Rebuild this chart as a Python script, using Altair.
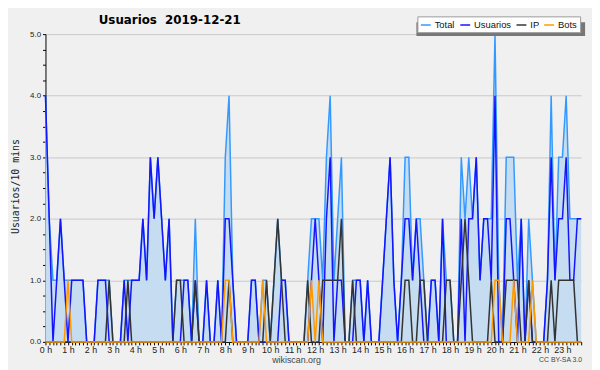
import altair as alt
import pandas as pd

# 10-minute bins, 6 per hour, one row per hour
total = [
    4, 2, 1, 1, 2, 1,   1, 1, 1, 1, 1, 0,   0, 0, 1, 1, 1, 1,   0, 0, 0, 1, 1, 1,
    1, 1, 2, 1, 3, 2,   3, 2, 1, 2, 0, 1,   1, 1, 1, 0, 2, 0,   0, 1, 0, 0, 1, 0,
    3, 4, 1, 0, 0, 0,   0, 1, 1, 0, 1, 1,   0, 1, 2, 1, 1, 0,   0, 0, 0, 0, 1, 2,
    2, 2, 1, 3, 4, 1,   2, 3, 0, 0, 1, 1,   1, 0, 1, 0, 0, 0,   1, 2, 3, 1, 0, 1,
    3, 3, 1, 2, 2, 1,   0, 1, 1, 0, 2, 1,   1, 0, 0, 3, 2, 3,   2, 3, 1, 2, 2, 2,
    5, 1, 0, 3, 3, 3,   1, 2, 0, 2, 1, 0,   0, 0, 1, 4, 1, 3,   3, 4, 2, 2, 2, 2,
]
usuarios = [
    4, 2, 0, 1, 2, 1,   0, 1, 1, 1, 1, 0,   0, 0, 1, 1, 1, 0,   0, 0, 0, 1, 0, 1,
    1, 1, 2, 1, 3, 2,   3, 2, 1, 2, 0, 0,   0, 1, 1, 0, 1, 0,   0, 1, 0, 0, 1, 0,
    2, 2, 1, 0, 0, 0,   0, 1, 1, 0, 0, 0,   0, 0, 0, 1, 1, 0,   0, 0, 0, 0, 0, 1,
    2, 1, 0, 2, 3, 0,   1, 1, 0, 0, 0, 1,   1, 0, 1, 0, 0, 0,   1, 2, 3, 1, 0, 1,
    2, 2, 1, 2, 1, 0,   0, 1, 1, 0, 2, 0,   0, 0, 0, 2, 0, 2,   2, 3, 1, 2, 2, 1,
    4, 0, 0, 2, 2, 1,   0, 2, 0, 1, 0, 0,   0, 0, 1, 3, 1, 2,   2, 3, 1, 1, 2, 2,
]
ip = [
    0, 0, 0, 0, 0, 0,   0, 0, 0, 0, 0, 0,   0, 0, 0, 0, 0, 1,   0, 0, 0, 0, 1, 0,
    0, 0, 0, 0, 0, 0,   0, 0, 0, 0, 0, 1,   1, 0, 0, 0, 1, 0,   0, 0, 0, 0, 0, 0,
    0, 1, 0, 0, 0, 0,   0, 0, 0, 0, 0, 1,   0, 1, 2, 1, 0, 0,   0, 0, 0, 0, 1, 0,
    0, 0, 1, 1, 1, 1,   1, 2, 0, 0, 1, 0,   0, 0, 0, 0, 0, 0,   0, 0, 0, 0, 0, 0,
    1, 1, 0, 0, 1, 1,   0, 0, 0, 0, 0, 1,   1, 0, 0, 1, 2, 1,   0, 0, 0, 0, 0, 1,
    0, 0, 0, 1, 1, 1,   1, 0, 0, 1, 0, 0,   0, 0, 0, 1, 0, 1,   1, 1, 1, 1, 0, 0,
]
bots = [
    0, 0, 0, 0, 0, 0,   1, 0, 0, 0, 0, 0,   0, 0, 0, 0, 0, 0,   0, 0, 0, 0, 0, 0,
    0, 0, 0, 0, 0, 0,   0, 0, 0, 0, 0, 0,   0, 0, 0, 0, 0, 0,   0, 0, 0, 0, 0, 0,
    1, 1, 0, 0, 0, 0,   0, 0, 0, 0, 1, 0,   0, 0, 0, 0, 0, 0,   0, 0, 0, 0, 0, 1,
    0, 1, 0, 0, 0, 0,   0, 0, 0, 0, 0, 0,   0, 0, 0, 0, 0, 0,   0, 0, 0, 0, 0, 0,
    0, 0, 0, 0, 0, 0,   0, 0, 0, 0, 0, 0,   0, 0, 0, 0, 0, 0,   0, 0, 0, 0, 0, 0,
    1, 1, 0, 0, 0, 1,   0, 0, 0, 0, 1, 0,   0, 0, 0, 0, 0, 0,   0, 0, 0, 0, 0, 0,
]

series_names = ["Total", "Usuarios", "IP", "Bots"]
series_colors = ["#3399ff", "#1414ff", "#333333", "#ff9900"]
fill_color = "#c6dcf0"
title_text = "Usuarios\u00a0\u00a02019-12-21"
y_title = "Usuarios/10 mins"
footer_left = "wikiscan.org"
footer_right = "CC BY-SA 3.0"

minutes = [i * 10 for i in range(len(total))]
rows = []
for name, vals in zip(series_names, [total, usuarios, ip, bots]):
    for m, v in zip(minutes, vals):
        rows.append({"serie": name, "min": m, "value": v})
df = pd.DataFrame(rows)
df_total = pd.DataFrame({"min": minutes, "value": total})

x_enc = alt.X(
    "min:Q",
    scale=alt.Scale(domain=[0, minutes[-1]], nice=False, zero=False),
    axis=alt.Axis(
        values=minutes,
        labelExpr="datum.value % 60 === 0 ? (datum.value / 60) + ' h' : ''",
        labelOverlap=False,
        labelFlush=False,
        labelFont="Liberation Sans",
        labelFontSize=9,
        labelColor="#222",
        labelPadding=1,
        tickSize=3,
        tickColor="black",
        domainColor="black",
        grid=False,
        title=footer_left,
        titleFont="Liberation Sans",
        titleFontSize=9,
        titleFontWeight="normal",
        titleColor="#444",
        titleX=254,
        titleY=21,
        titleAlign="center",
        titleBaseline="alphabetic",
    ),
)
y_vals = [i * 0.25 for i in range(21)]
y_enc = alt.Y(
    "value:Q",
    scale=alt.Scale(domain=[0, 5], nice=False),
    axis=alt.Axis(
        values=y_vals,
        labelExpr="datum.value % 1 === 0 ? format(datum.value, '.1f') : ''",
        labelOverlap=False,
        labelFont="Liberation Sans",
        labelFontSize=8,
        labelColor="#222",
        labelPadding=2,
        tickSize=3,
        tickColor="black",
        domainColor="black",
        grid=True,
        gridColor="#c8c8c8",
        gridOpacity={"condition": {"test": "datum.value % 1 !== 0", "value": 0}, "value": 1},
        title=y_title,
        titleFont="DejaVu Sans Mono",
        titleFontSize=10,
        titleFontWeight="normal",
        titleColor="#222",
        titleAngle=-90,
        titleX=-30,
        titleY=154,
        titleAlign="center",
        titleBaseline="middle",
    ),
)

legend = alt.Legend(
    title=None,
    orient="none",
    legendX=377,
    legendY=-18,
    direction="horizontal",
    columns=4,
    symbolType="stroke",
    symbolSize=100,
    symbolStrokeWidth=1.5,
    labelFont="Liberation Sans",
    labelFontSize=9.5,
    labelColor="#111",
    labelOffset=3,
    columnPadding=2,
    padding=2.5,
    fillColor="white",
    strokeColor="#999999",
)
color_enc = alt.Color(
    "serie:N",
    scale=alt.Scale(domain=series_names, range=series_colors),
    legend=legend,
)

shadow = alt.Chart(pd.DataFrame({"a": [0]})).mark_rect(color="#777777").encode(
    x=alt.value(376), x2=alt.value(547), y=alt.value(-12), y2=alt.value(2)
)

area = alt.Chart(df_total).mark_area(color=fill_color, opacity=1, interpolate="linear").encode(
    x=x_enc, y=y_enc
)

lines = [
    alt.Chart(df)
    .transform_filter(alt.datum.serie == name)
    .mark_line(strokeWidth=1.5, interpolate="linear")
    .encode(x=x_enc, y=y_enc, color=color_enc)
    for name in series_names
]

cc = alt.Chart(pd.DataFrame({"t": [footer_right]})).mark_text(
    align="right", baseline="alphabetic", fontSize=7, color="#444", font="Liberation Sans"
).encode(text="t:N", x=alt.value(544), y=alt.value(332))

title = alt.Chart(pd.DataFrame({"t": [title_text]})).mark_text(
    align="left", baseline="alphabetic", fontSize=12, fontWeight="bold",
    color="black", font="DejaVu Sans",
).encode(text="t:N", x=alt.value(54), y=alt.value(-10))

chart = (
    alt.layer(area, *lines, shadow, cc, title)
    .properties(
        width=543,
        height=312,
        autosize="none",
        padding={"left": 38, "top": 24, "right": 11, "bottom": 26},
        background="#f0f0f0",
    )
    .configure_view(stroke=None)
)

chart.save("out.html", embed_options={"renderer": "svg", "actions": False})
